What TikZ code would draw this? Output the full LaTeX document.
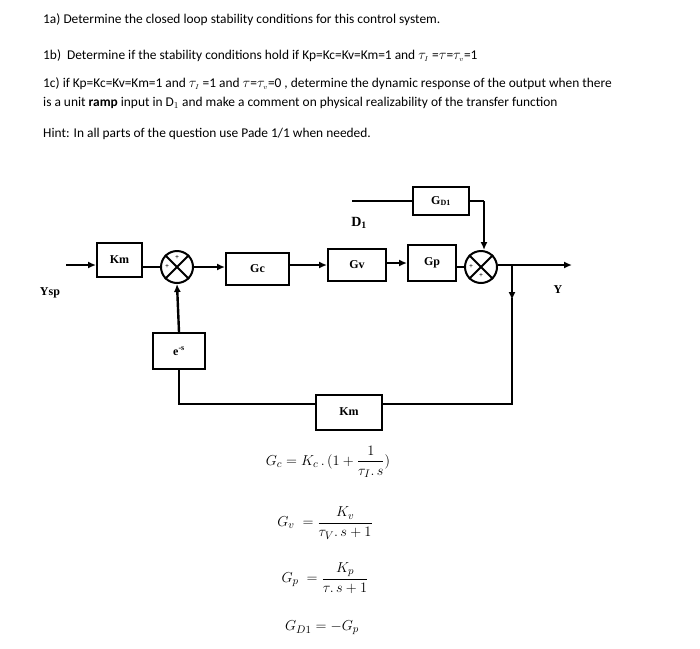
\documentclass[tikz,border=0pt]{standalone}
\usepackage{amsmath}
\usepackage{fontspec}
\setmainfont{Liberation Serif}
\newfontfamily\calib{Carlito}
\usetikzlibrary{arrows.meta}
\begin{document}
\begin{tikzpicture}[x=1pt,y=-1pt,
  blk/.style={draw,line width=2pt,minimum width=#1,inner sep=0pt,font=\bfseries\fontsize{12}{14}\selectfont},
  sumc/.style={draw,circle,line width=2pt,minimum size=32pt,inner sep=0pt},
  ln/.style={line width=2.4pt},
  ar/.style={ln,-{Latex[length=8pt,width=7pt]}},
  q/.style={anchor=west,font=\calib\fontsize{13.4}{15}\selectfont,inner sep=0pt},
  eq/.style={font=\fontsize{15}{18}\selectfont}]
\useasboundingbox (0,0) rectangle (700,648);
\node[q] (t1) at (43,20) {1a) Determine the closed loop stability conditions for this control system.};
\node[q] (t2) at (43,56) {1b)\ \ Determine if the stability conditions hold if Kp=Kc=Kv=Km=1 and $\tau_{\scriptscriptstyle I}$ =$\tau$=$\tau_{\scriptscriptstyle v}$=1};
\node[q] (t3) at (43,84) {1c) if Kp=Kc=Kv=Km=1 and $\tau_{\scriptscriptstyle I}$ =1 and $\tau$=$\tau_{\scriptscriptstyle v}$=0 , determine the dynamic response of the output when there};
\node[q] (t4) at (43,103) {is a unit \textbf{ramp} input in D$_{1}$ and make a comment on physical realizability of the transfer function};
\node[q] (t5) at (43,134) {Hint: In all parts of the question use Pade 1/1 when needed.};
% blocks
\node[blk=45pt,minimum height=34pt] (km1) at (119.5,260) {Km};
\node[sumc] (s1) at (177,267) {};
\node[blk=63pt,minimum height=32pt] (gc) at (257.5,269) {Gc};
\node[blk=58pt,minimum height=32pt] (gv) at (357,265) {Gv};
\node[blk=48pt,minimum height=36pt] (gp) at (432,263) {Gp};
\node[sumc] (s2) at (481,267) {};
\node[blk=56pt,minimum height=28pt] (gd) at (441,201) {G$_{\mathbf{D1}}$};
\node[blk=52pt,minimum height=36pt] (es) at (179,351) {e\textsuperscript{-s}};
\node[blk=66pt,minimum height=35pt] (km2) at (349,412) {Km};
\foreach \s in {s1,s2}{
  \draw[line width=2pt] (\s.north west) -- (\s.south east) (\s.north east) -- (\s.south west);}
\node[font=\scriptsize\bfseries] at ([xshift=-10pt]s1.center) {+};
\node[font=\scriptsize\bfseries] at ([yshift=9pt]s1.center) {+};
\node[font=\scriptsize\bfseries] at ([xshift=-10pt]s2.center) {+};
\node[font=\scriptsize\bfseries] at ([yshift=-9pt]s2.center) {+};
% labels
\node[font=\bfseries\fontsize{12}{14}\selectfont] (ysp) at (50,293) {Ysp};
\node[font=\bfseries\fontsize{12}{14}\selectfont] (y) at (558,290) {Y};
\node[font=\bfseries\fontsize{14}{16}\selectfont] (d1) at (359,223) {D$_{\mathbf 1}$};
% wires
\coordinate (in) at (66,265);
\coordinate (out) at (572,265);
\coordinate (d1s) at (352,201);
\coordinate (br) at (512,265);
\coordinate (bd) at (512,404);
\coordinate (bl) at (179,404);
\coordinate (gdr) at (484,201);
\draw[ar] (in) -- (km1.west|-in);
\draw[ln] (km1.east|-s1) -- (s1.west);
\draw[ar] (s1.east) -- (gc.west|-s1);
\draw[ar] (gc.east|-gv) -- (gv.west);
\draw[ar] (gv.east|-gp) -- (gp.west);
\draw[ln] (gp.east|-s2) -- (s2.west);
\draw[ar] (s2.east|-out) -- (out);
\draw[ar] (br) -- (512,300);
\draw[ln] (512,298) -- (bd) -- (km2.east|-bd);
\draw[ln] (km2.west|-bd) -- (bl) -- (es.south);
\draw[ar] (es.north) -- (s1.south);
\draw[ln] (d1s) -- (gd.west);
\draw[ln] (gd.east) -- (gdr);
\draw[ar] (gdr) -- (gdr|-s2.north);
% equations
\node[eq] (e1) at (328,462) {$G_c=K_c\,.\,(1+\dfrac{1}{\tau_I.\,s})$};
\node[eq] (e2) at (325,523) {$G_v\;=\dfrac{K_v}{\tau_V.\,s+1}$};
\node[eq] (e3) at (325,578) {$G_p\;=\dfrac{K_p}{\tau.\,s+1}$};
\node[eq] (e4) at (322,628) {$G_{D1}=-G_p$};
\end{tikzpicture}
\end{document}
